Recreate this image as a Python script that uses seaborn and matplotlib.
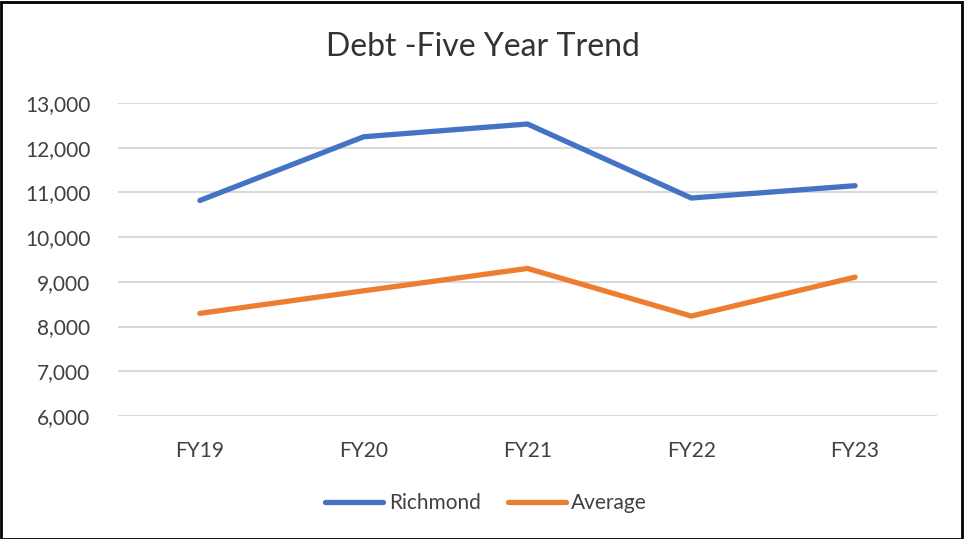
import matplotlib
matplotlib.use("Agg")
import matplotlib.pyplot as plt
import seaborn as sns
import pandas as pd
from matplotlib.ticker import FuncFormatter
from matplotlib.patches import Rectangle
from matplotlib.lines import Line2D

years = ["FY19", "FY20", "FY21", "FY22", "FY23"]
richmond = [10820, 12245, 12530, 10875, 11150]
average = [8295, 8800, 9300, 8235, 9105]
series_names = ["Richmond", "Average"]

df = pd.DataFrame({
    "Year": years * 2,
    "Debt": richmond + average,
    "Series": [series_names[0]] * len(years) + [series_names[1]] * len(years),
})

sns.set_theme(style="white")
plt.rcParams["font.family"] = ["Lato", "DejaVu Sans"]

fig = plt.figure(figsize=(9.64, 5.39), dpi=100)
ax = fig.add_axes([118 / 964, 1 - 416 / 539, (937 - 118) / 964, (416 - 103) / 539])

sns.lineplot(data=df, x="Year", y="Debt", hue="Series",
             palette={"Richmond": "#4472C4", "Average": "#ED7D31"},
             linewidth=3.8, ax=ax, legend=False, sort=False,
             solid_capstyle="round", solid_joinstyle="miter")

ax.set_xlim(-0.5, 4.5)
ax.set_ylim(6000, 13000)
ax.set_yticks(range(6000, 13001, 1000))
ax.yaxis.set_major_formatter(FuncFormatter(lambda v, p: f"{int(v):,}"))
ax.grid(axis="y", color="#D9D9D9", linewidth=1.5)
ax.grid(axis="x", visible=False)
ax.set_axisbelow(True)
for s in ax.spines.values():
    s.set_visible(False)
ax.set_xlabel("")
ax.set_ylabel("")
ax.tick_params(axis="y", length=0, pad=20, labelsize=15, labelcolor="#404040")
ax.tick_params(axis="x", length=0, pad=18, labelsize=15, labelcolor="#404040")

fig.text(483 / 964, 1 - 47 / 539, "Debt -Five Year Trend", ha="center", va="center",
         fontsize=23, color="#333333")

handles = [Line2D([0], [0], color="#4472C4", lw=3.8, solid_capstyle="round"),
           Line2D([0], [0], color="#ED7D31", lw=3.8, solid_capstyle="round")]
fig.legend(handles, series_names, loc="center", bbox_to_anchor=(486 / 964, 1 - 503 / 539),
           ncol=2, frameon=False, fontsize=15, handlelength=2.8, handletextpad=0.25,
           columnspacing=1.3, labelcolor="#404040")

fig.patches.append(Rectangle((0.001, 0), 0.997, 0.997, transform=fig.transFigure,
                             fill=False, edgecolor="black", linewidth=2))

fig.savefig("out.png", dpi=100)
